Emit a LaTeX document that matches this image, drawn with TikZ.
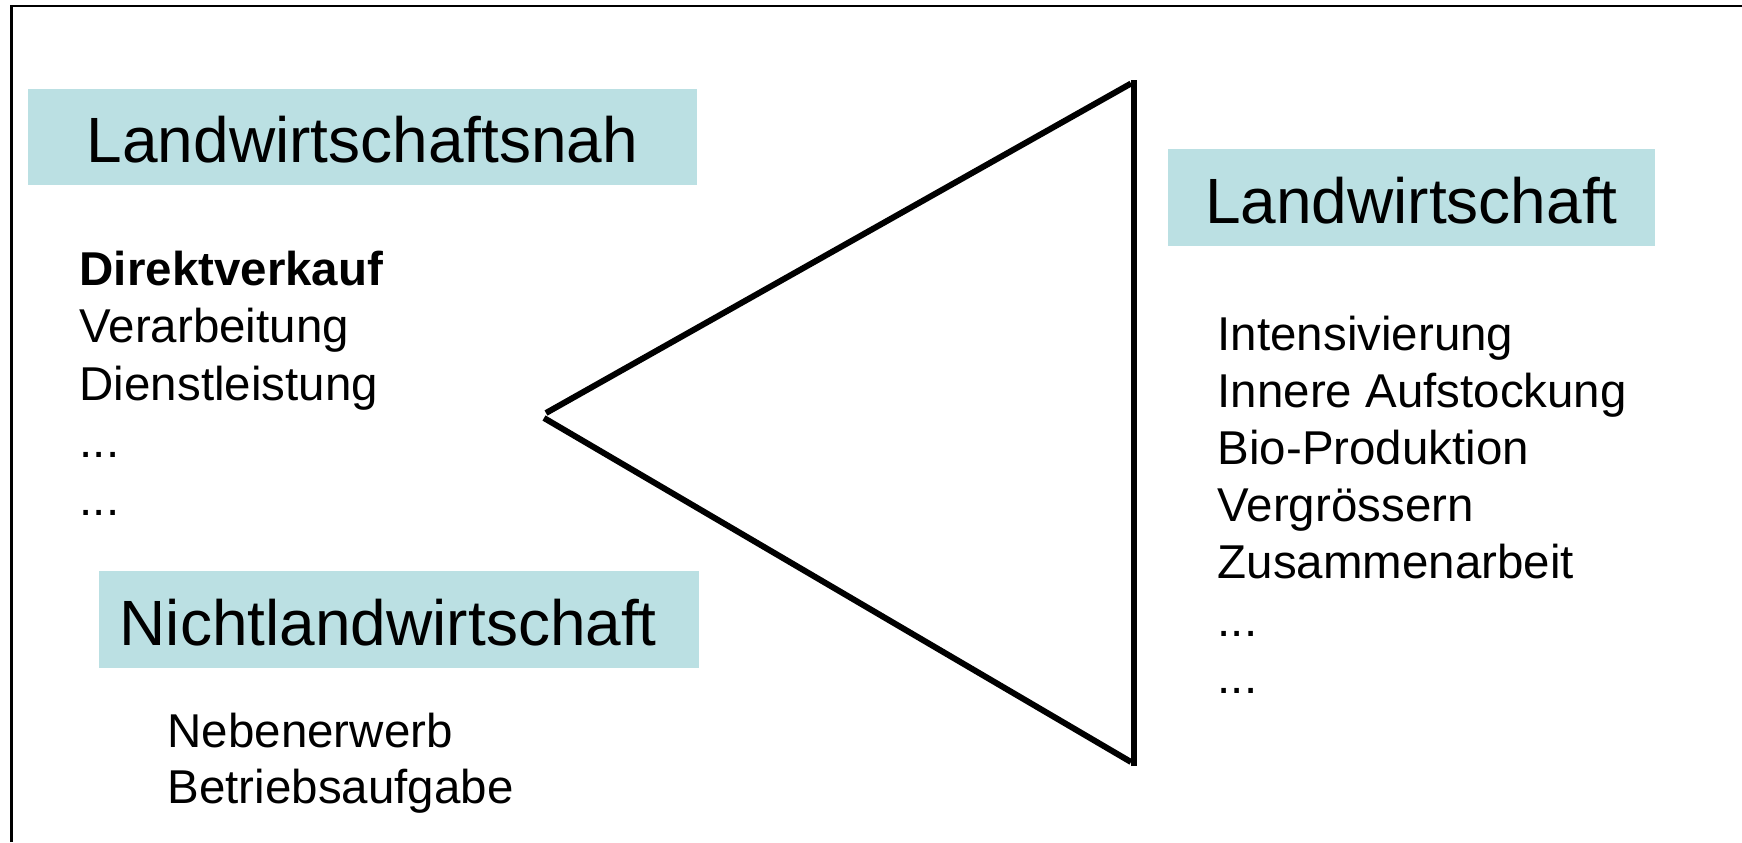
\documentclass[tikz,border=0pt]{standalone}
\usepackage{fontspec}
\setmainfont{Liberation Sans}
\usepackage{xcolor}
\usetikzlibrary{positioning}

\definecolor{boxcyan}{RGB}{187,224,227}
\newcommand{\threedots}{...}

\begin{document}
\begin{tikzpicture}[x=0.01cm,y=-0.01cm,
  headbox/.style={fill=boxcyan, anchor=north west, inner sep=0pt,
    text height=0.52cm, text depth=0pt,
    font=\fontsize{18.2pt}{22pt}\selectfont},
  item/.style={anchor=base west, inner sep=0pt,
    font=\fontsize{13.5pt}{16pt}\selectfont},
  edge/.style={line width=1.7pt}]

  \useasboundingbox (0,0) rectangle (1742,842);

  % frame
  \draw[line width=0.6pt] (11.5,842) -- (11.5,6.3) -- (1742,6.3);

  \node[headbox, minimum width=6.69cm, minimum height=0.96cm] (nahbox) at (27,88) {Landwirtschaftsnah};
  \node[headbox, minimum width=4.87cm, minimum height=0.97cm] (landbox) at (1167,148) {Landwirtschaft};
  \node[headbox, inner xsep=0.21cm, text width=5.58cm, align=left, minimum height=0.97cm] (nichtbox) at (98,570) {Nichtlandwirtschaft};

  \foreach \txt [count=\i from 0] in {\textbf{Direktverkauf}, Verarbeitung, Dienstleistung, \threedots, \threedots}
    \node[item] (nah-\i) at (79,285+57.5*\i) {\txt};

  \foreach \txt [count=\i from 0] in {Intensivierung, Innere Aufstockung, Bio-Produktion, Vergrössern, Zusammenarbeit, \threedots, \threedots}
    \node[item] (land-\i) at (1217,350+57.2*\i) {\txt};

  \foreach \txt [count=\i from 0] in {Nebenerwerb, Betriebsaufgabe}
    \node[item] (nicht-\i) at (167,747+56*\i) {\txt};

  % triangle
  \coordinate (tipup) at (546,413);
  \coordinate (tipdown) at (544,418);
  \coordinate (apexup) at (1131,83.5);
  \coordinate (apexdown) at (1131,762);
  \draw[edge] (tipup) -- (apexup);
  \draw[edge] (1133.5,80) -- (1133.5,766);
  \draw[edge] (tipdown) -- (apexdown);
\end{tikzpicture}
\end{document}
